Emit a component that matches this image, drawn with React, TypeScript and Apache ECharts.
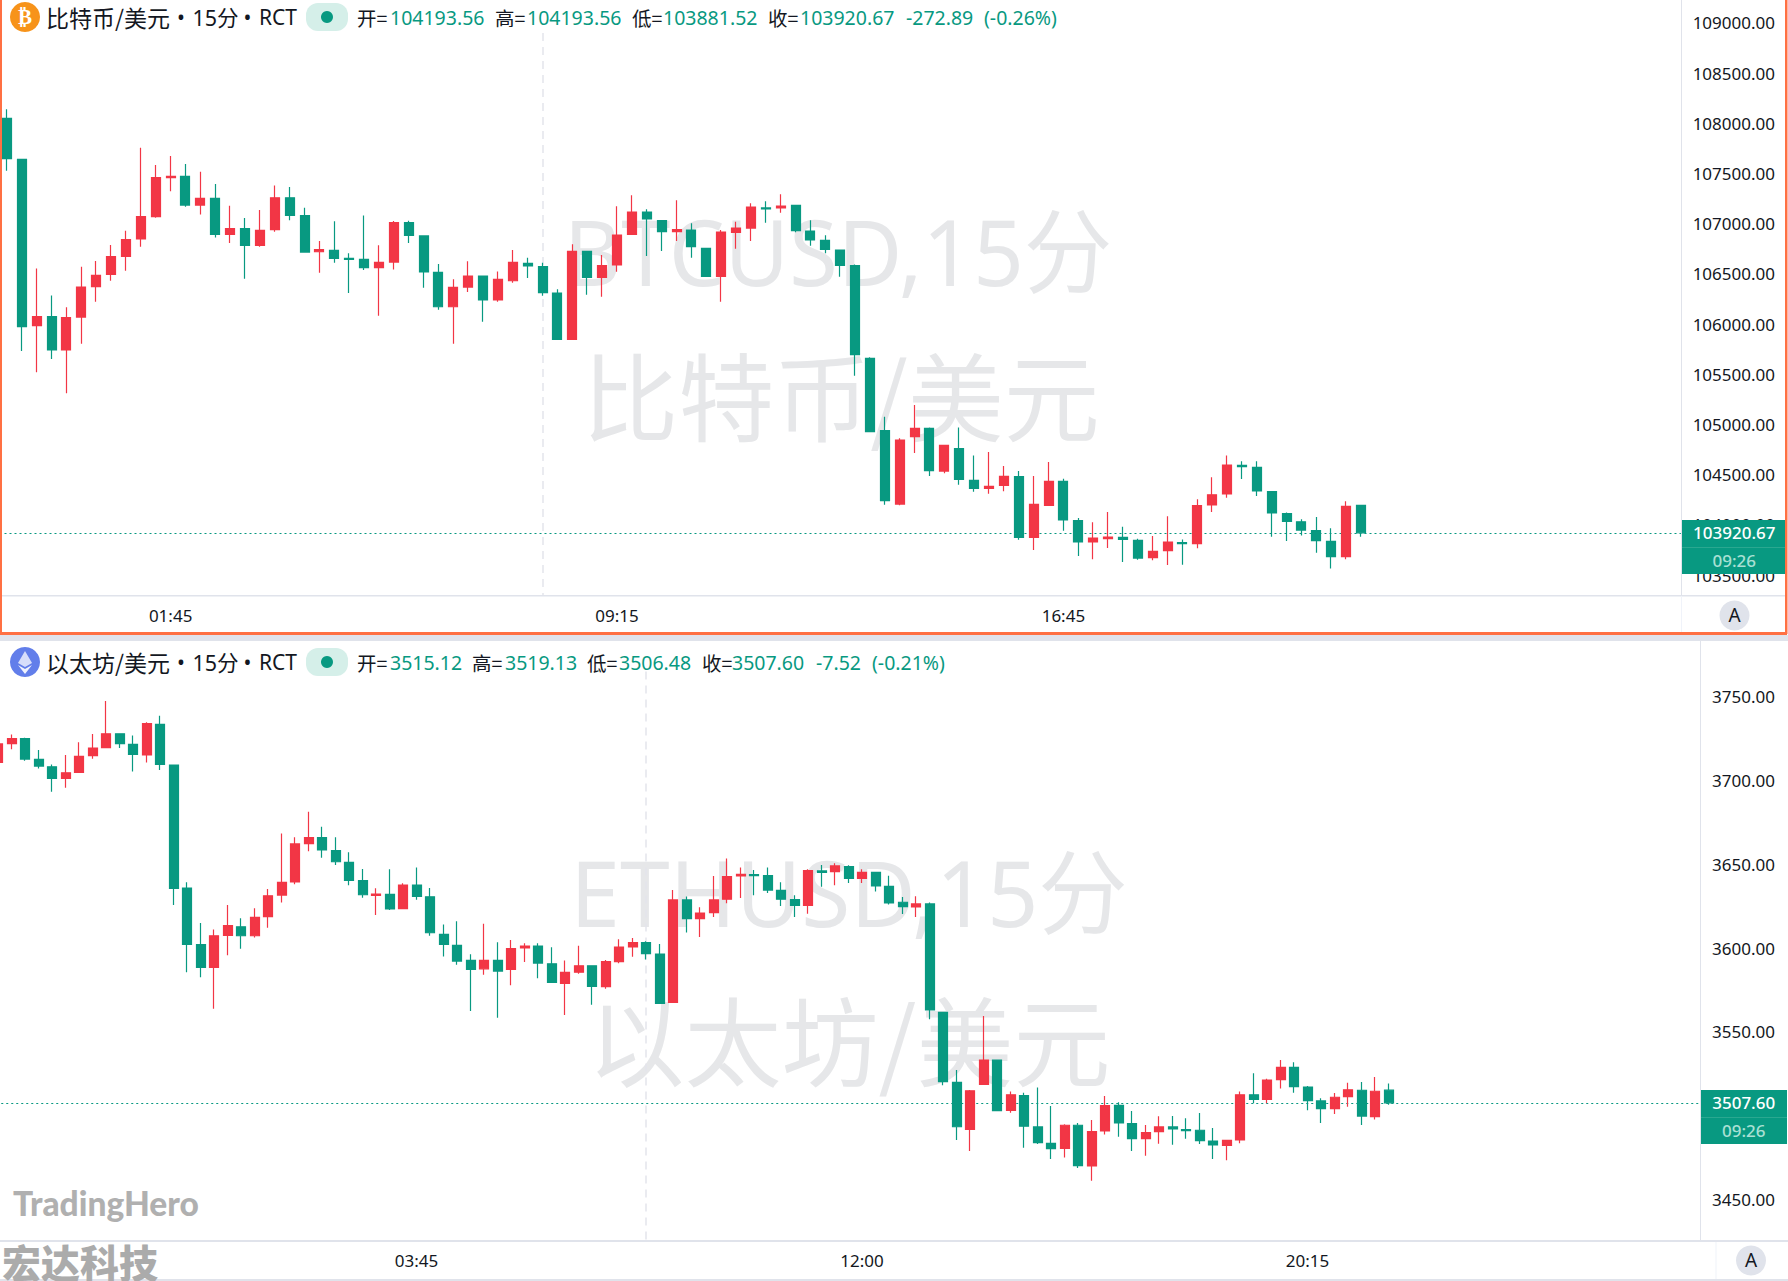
import React, { useEffect, useRef } from "react";
import * as echarts from "echarts";

// [open, close, low, high]
const btcCandles = [
  [108050,107648,107529,108140],[107641,105974,105732,107641],[105984,106074,105519,106555],[106074,105742,105652,106286],
  [105742,106064,105310,106167],[106070,106369,105805,106572],[106373,106486,106223,106628],[106496,106672,106432,106788],
  [106675,106841,106532,106931],[106848,107070,106771,107758],[107070,107459,107060,107585],[107459,107472,107323,107675],
  [107472,107186,107170,107595],[107186,107253,107093,107519],[107253,106894,106864,107396],[106894,106951,106808,107180],
  [106951,106785,106452,107057],[106785,106934,106771,107137],[106941,107259,106921,107382],[107259,107083,107034,107366],
  [107080,106718,106715,107160],[106721,106741,106512,106828],[106735,106655,106612,107024],[106655,106645,106310,106705],
  [106645,106562,106539,107083],[106562,106615,106084,106785],[106618,107010,106545,107027],[107010,106884,106808,107030],
  [106878,106519,106363,106878],[106516,106173,106144,106599],[106173,106366,105805,106446],[106369,106479,106320,106625],
  [106479,106240,106024,106479],[106240,106446,106223,106525],[106432,106615,106413,106738],[106605,106579,106459,106662],
  [106572,106313,106283,106612],[106310,105848,105848,106346],[105848,106725,105848,106795],[106725,106466,106293,106725],
  [106466,106582,106273,106688],[106589,106887,106522,107173],[106894,107117,106894,107283],[107117,107047,106678,107143],
  [107030,106921,106728,107030],[106921,106941,106828,107233],[106937,106771,106662,107004],[106755,106476,106476,106755],
  [106476,106917,106223,106937],[106914,106957,106751,107020],[106957,107166,106828,107203],[107157,107147,107010,107223],
  [107157,107176,107110,107293],[107183,106931,106914,107183],[106927,106838,106781,107034],[106834,106745,106705,106884],
  [106738,106585,106472,106738],[106582,105695,105486,106595],[105659,104928,104928,105669],[104938,104241,104201,105078],
  [104207,104845,104194,104862],[104878,104961,104716,105194],[104961,104540,104486,104971],[104536,104792,104513,104792],
  [104759,104453,104400,104971],[104443,104364,104330,104692],[104364,104384,104310,104726],[104393,104483,104334,104586],
  [104480,103875,103852,104536],[103875,104204,103749,104486],[104194,104433,104188,104626],[104433,104048,103942,104460],
  [104041,103829,103689,104068],[103829,103869,103656,104025],[103862,103879,103769,104128],[103875,103855,103630,103982],
  [103845,103669,103653,103862],[103673,103736,103646,103889],[103743,103829,103600,104085],[103822,103812,103603,103855],
  [103812,104191,103766,104254],[104198,104300,104128,104473],[104307,104596,104271,104692],[104593,104579,104457,104633],
  [104573,104337,104287,104633],[104330,104118,103882,104330],[104111,104035,103839,104124],[104031,103948,103895,104055],
  [103942,103842,103723,104078],[103835,103683,103566,103965],[103683,104184,103656,104234],[104193.56,103920.67,103881.52,104193.56],
];

const ethCandles = [
  [3710.8,3721.8,3709.8,3724.1],[3722.0,3725.0,3718.6,3727.5],[3725.0,3712.8,3711.8,3725.5],[3712.6,3708.6,3707.2,3718.2],
  [3708.2,3701.3,3693.3,3709.6],[3701.3,3704.6,3695.7,3715.2],[3704.8,3714.4,3704.8,3722.8],[3714.8,3719.4,3713.0,3727.8],
  [3719.6,3727.9,3719.6,3747.4],[3727.9,3722.0,3719.4,3727.9],[3721.6,3715.6,3705.3,3726.8],[3715.2,3733.9,3710.8,3734.7],
  [3733.5,3709.6,3706.2,3738.7],[3709.2,3635.6,3625.6,3709.2],[3635.8,3602.2,3585.5,3639.2],[3602.0,3588.4,3582.5,3614.9],
  [3588.4,3607.3,3563.8,3611.1],[3607.5,3613.3,3595.6,3625.6],[3612.7,3607.3,3599.6,3617.7],[3607.3,3618.3,3606.2,3623.7],
  [3618.7,3631.2,3612.1,3635.2],[3631.6,3639.2,3627.2,3668.4],[3639.4,3662.1,3638.0,3666.1],[3662.3,3665.9,3657.7,3681.4],
  [3665.9,3658.5,3653.9,3672.4],[3658.1,3651.5,3649.5,3666.1],[3651.1,3640.4,3637.4,3657.1],[3640.2,3631.8,3630.0,3647.1],
  [3631.4,3632.2,3619.7,3635.6],[3632.0,3623.3,3622.7,3647.0],[3623.5,3637.6,3623.5,3638.6],[3637.6,3630.8,3628.8,3648.1],
  [3630.6,3609.1,3607.3,3635.8],[3608.1,3602.2,3595.0,3614.1],[3601.6,3592.2,3590.0,3615.9],[3592.6,3587.2,3562.4,3596.2],
  [3587.6,3592.6,3584.1,3614.5],[3592.6,3586.2,3558.4,3603.4],[3587.2,3599.6,3577.7,3604.8],[3600.0,3601.2,3591.6,3602.8],
  [3601.2,3591.0,3581.9,3602.8],[3590.6,3579.5,3579.5,3600.4],[3578.9,3585.4,3560.0,3592.6],[3585.6,3589.4,3584.6,3601.4],
  [3589.4,3577.1,3566.2,3589.4],[3576.9,3591.9,3575.7,3592.9],[3591.9,3600.6,3590.9,3605.2],[3600.6,3603.2,3594.8,3606.0],
  [3603.2,3596.6,3593.1,3604.0],[3596.4,3567.0,3567.0,3602.4],[3567.6,3628.7,3567.6,3634.6],[3628.7,3617.5,3609.2,3630.7],
  [3617.5,3620.9,3606.6,3624.3],[3621.1,3628.7,3618.5,3643.0],[3629.1,3642.6,3626.7,3653.5],[3643.0,3644.0,3629.9,3648.0],
  [3643.8,3643.2,3631.5,3646.6],[3643.2,3634.6,3632.9,3648.0],[3634.4,3629.1,3625.1,3639.2],[3628.9,3625.5,3618.5,3631.5],
  [3625.5,3646.2,3620.5,3647.0],[3646.0,3645.2,3636.6,3649.6],[3645.6,3649.0,3637.4,3650.6],[3648.6,3641.6,3638.8,3649.4],
  [3641.6,3645.2,3638.8,3647.0],[3645.2,3637.0,3633.7,3645.2],[3636.8,3626.9,3625.9,3643.2],[3627.3,3624.7,3620.3,3630.5],
  [3624.5,3626.3,3618.5,3630.9],[3626.3,3563.0,3557.4,3627.1],[3561.6,3520.2,3518.0,3561.6],[3519.8,3493.3,3485.4,3527.2],
  [3491.7,3514.8,3478.8,3515.2],[3518.6,3533.1,3518.2,3559.4],[3533.1,3502.9,3502.9,3533.1],[3503.1,3512.4,3501.7,3514.4],
  [3511.9,3493.6,3480.8,3513.6],[3493.2,3483.8,3483.0,3516.8],[3483.4,3480.2,3474.1,3505.7],[3480.4,3494.2,3474.9,3494.8],
  [3494.2,3470.1,3468.7,3495.6],[3469.9,3490.4,3461.1,3497.3],[3490.8,3505.9,3488.6,3511.7],[3506.1,3495.6,3487.4,3507.9],
  [3495.2,3486.2,3478.8,3502.7],[3486.2,3489.8,3476.0,3494.4],[3490.4,3493.2,3483.2,3499.5],[3493.2,3492.0,3482.6,3499.7],
  [3491.6,3491.0,3486.2,3498.3],[3491.2,3485.0,3483.0,3501.5],[3484.8,3482.4,3474.1,3492.6],[3482.2,3485.2,3473.3,3485.2],
  [3485.4,3512.4,3483.4,3514.4],[3512.4,3509.7,3507.3,3525.2],[3509.7,3521.2,3507.3,3522.0],[3521.4,3528.8,3516.2,3533.1],
  [3528.8,3517.2,3513.6,3531.8],[3517.0,3508.9,3503.1,3517.6],[3508.7,3504.1,3495.6,3510.3],[3504.1,3510.9,3500.9,3513.5],
  [3511.3,3515.4,3505.3,3519.6],[3515.1,3499.7,3494.4,3520.0],[3499.3,3514.5,3497.7,3523.0],[3515.12,3507.60,3506.48,3519.13],
];

const btcYTicks = [103500,104000,104500,105000,105500,106000,106500,107000,107500,108000,108500,109000];
const ethYTicks = [3450,3550,3600,3650,3700,3750]; // 3500 lies fully behind the price tag
const btcTickIndex = [11, 41, 71];
const ethTickIndex = [31, 64, 97];
const btcClose = 103920.67;
const ethClose = 3507.6;
const btcSessionIndex = 36;
const ethSessionIndex = 48;

const RED = "#F23645";
const GREEN = "#089981";
const LINE = "#e0e3eb";
const INK = "#131722";
const ORANGE = "#ff7043";
const FONT = '"Noto Sans","Noto Sans CJK SC",sans-serif';
const CJK = '"Noto Sans CJK SC","Noto Sans",sans-serif';
const PAD = 10; // the chart canvas starts PAD px left of the page so the first ETH candle can be cut by the page edge

function times(startMinutes: number, n: number) {
  const out: string[] = [];
  for (let i = 0; i < n; i++) {
    const m = (startMinutes + i * 15) % 1440;
    out.push(String(Math.floor(m / 60)).padStart(2, "0") + ":" + String(m % 60).padStart(2, "0"));
  }
  return out;
}
const btcTimes = times(23 * 60, 113);
const ethTimes = times(20 * 60, 127);

const txt = (x: number, y: number, text: string, fill: string, size: number, opt: any = {}) => ({
  type: "text", x, y, z: opt.z ?? 12, silent: true, scaleX: opt.scaleX ?? 1,
  style: {
    text, fill, fontSize: size, fontFamily: opt.family ?? FONT, fontWeight: opt.weight ?? 400,
    align: opt.align ?? "left", verticalAlign: "middle",
  },
});
const box = (x: number, y: number, width: number, height: number, fill: string, z = 8, r = 0) => ({
  type: "rect", z, silent: true, shape: { x, y, width, height, r }, style: { fill },
});

function header(cy: number, pair: string, parts: [number, string, string][]) {
  return [
    txt(46, cy, pair, INK, 23, { family: CJK }),
    txt(181, cy, "•", INK, 21, { align: "center" }),
    txt(192.5, cy, "15分", INK, 21.5),
    txt(247.5, cy, "•", INK, 21, { align: "center" }),
    txt(259, cy, "RCT", INK, 21),
    box(306, cy - 14, 42, 28, "#d5efe9", 12, 12),
    { type: "circle", z: 13, silent: true, shape: { cx: 327, cy, r: 6 }, style: { fill: GREEN } },
    ...parts.map(([x, s, c]) => txt(x, cy, s, c, 19.5, { family: s.includes("=") ? CJK : FONT })),
  ];
}

function tag(x: number, w: number, top: number, cx: number, price: string) {
  return [
    box(x, top, w, 54, GREEN, 10),
    box(x, top + 27, w, 1, "#2aa890", 11),
    txt(cx, top + 12.5, price, "#ffffff", 17, { align: "center", weight: 500 }),
    txt(cx, top + 40, "09:26", "#a9e0d4", 17, { align: "center", weight: 500 }),
  ];
}

function candleSeries(data: number[][], xi: number, close: number, session: number, top: number, bottom: number) {
  return {
    type: "candlestick", xAxisIndex: xi, yAxisIndex: xi, data, barWidth: 9.5,
    itemStyle: { color: RED, color0: GREEN, borderColor: RED, borderColor0: GREEN, borderWidth: 1.2 },
    markLine: {
      silent: true, symbol: "none", z: 1, animation: false, label: { show: false },
      data: [
        { yAxis: close, lineStyle: { type: [2, 3], color: GREEN, width: 1 } },
        [
          { coord: [session, top], lineStyle: { type: [8, 6], color: "#e3e5ec", width: 1.5 } },
          { coord: [session, bottom] },
        ],
      ],
    },
  };
}

export default function App() {
  const ref = useRef<HTMLDivElement>(null);
  useEffect(() => {
    const chart = echarts.init(ref.current!, undefined, { renderer: "svg" });
    const children = [
      // watermarks
      txt(838, 250, "BTCUSD,15分", "#e6e7e9", 92, { align: "center", z: 0, scaleX: 0.962 }),
      txt(841, 392, "比特币/美元", "#e6e7e9", 96, { align: "center", z: 0, family: CJK }),
      txt(849, 892, "ETHUSD,15分", "#e6e7e9", 92, { align: "center", z: 0, scaleX: 0.972 }),
      txt(849, 1036, "以太坊/美元", "#e6e7e9", 97, { align: "center", z: 0, family: CJK }),
      // frame lines
      box(0, 595, 1785, 1.5, LINE),
      box(1681, 0, 1, 595, LINE),
      box(1681, 596, 1, 36, "#f0f3fa"),
      box(0, 635, 1788, 6, LINE),
      box(0, 632, 1787, 3, ORANGE, 9),
      box(0, 0, 2, 634, ORANGE, 9),
      box(1785, 0, 2.5, 634, ORANGE, 9),
      box(0, 1240, 1788, 2, LINE),
      box(1700, 641, 1, 600, LINE),
      box(1715.5, 1242, 1, 37, "#f0f3fa"),
      box(0, 1279, 1788, 2, LINE),
      // auto-scale buttons
      { type: "circle", z: 9, silent: true, shape: { cx: 1734.5, cy: 615.5, r: 15 }, style: { fill: LINE } },
      txt(1734.5, 614.5, "A", INK, 19, { align: "center" }),
      { type: "circle", z: 9, silent: true, shape: { cx: 1751, cy: 1260.5, r: 15 }, style: { fill: LINE } },
      txt(1751, 1259.5, "A", INK, 19, { align: "center" }),
      // icons
      { type: "circle", z: 12, silent: true, shape: { cx: 25, cy: 17, r: 15 }, style: { fill: "#f7931a" } },
      txt(25, 17, "₿", "#ffffff", 21, { align: "center", weight: 700, family: '"DejaVu Sans"', z: 13 }),
      { type: "circle", z: 12, silent: true, shape: { cx: 25, cy: 662, r: 15 }, style: { fill: "#627eea" } },
      { type: "polygon", z: 13, silent: true, shape: { points: [[25, 651], [32, 663], [25, 667], [18, 663]] }, style: { fill: "#ffffff", opacity: 0.75 } },
      { type: "polygon", z: 13, silent: true, shape: { points: [[25, 669], [32, 665], [25, 674], [18, 665]] }, style: { fill: "#ffffff", opacity: 0.9 } },
      // headers
      ...header(17, "比特币/美元", [
        [357, "开=", INK], [390, "104193.56", GREEN],
        [495, "高=", INK], [527, "104193.56", GREEN],
        [632, "低=", INK], [663, "103881.52", GREEN],
        [768, "收=", INK], [800, "103920.67", GREEN],
        [906, "-272.89", GREEN], [984, "(-0.26%)", GREEN],
      ]),
      ...header(662, "以太坊/美元", [
        [357, "开=", INK], [390, "3515.12", GREEN],
        [472, "高=", INK], [505, "3519.13", GREEN],
        [587, "低=", INK], [619, "3506.48", GREEN],
        [702, "收=", INK], [732, "3507.60", GREEN],
        [816, "-7.52", GREEN], [872, "(-0.21%)", GREEN],
      ]),
      ...tag(1682, 103, 520, 1734.3, "103920.67"),
      ...tag(1701, 86, 1090, 1743.7, "3507.60"),
      // brand marks
      txt(13, 1203, "TradingHero", "#b0b0b0", 33.5, { family: '"Lato","Noto Sans",sans-serif', weight: 900 }),
      txt(2, 1260.5, "宏达科技", "#ababab", 39, { family: CJK, weight: 900 }),
    ];
    const graphic = [{ type: "group", x: PAD, y: 0, children }];

    const xAxisBase = {
      type: "category", boundaryGap: true,
      axisLine: { show: false }, axisTick: { show: false }, splitLine: { show: false },
    };
    const yAxisBase = {
      type: "value", position: "right", scale: true,
      axisLine: { show: false }, axisTick: { show: false }, splitLine: { show: false },
    };
    const xLabel = (idx: number[]) => ({
      color: INK, fontSize: 17, fontFamily: FONT, margin: 11, hideOverlap: false,
      interval: (i: number) => idx.includes(i),
    });
    const yLabel = (vals: number[], gridRight: number) => ({
      customValues: vals, color: INK, fontSize: 17, fontFamily: FONT, align: "right",
      margin: 1775 - gridRight, showMinLabel: true, showMaxLabel: true,
      formatter: (v: number) => v.toFixed(2),
    });

    chart.setOption({
      animation: false,
      backgroundColor: "#ffffff",
      tooltip: { show: false },
      grid: [
        { left: PAD - 0.5, top: 0, width: 1681.4, height: 596 },
        { left: PAD - 8.75, top: 641, width: 1714.5, height: 600 },
      ],
      xAxis: [
        { ...xAxisBase, gridIndex: 0, data: btcTimes, axisLabel: xLabel(btcTickIndex) },
        { ...xAxisBase, gridIndex: 1, data: ethTimes, axisLabel: xLabel(ethTickIndex) },
      ],
      yAxis: [
        { ...yAxisBase, gridIndex: 0, min: 103291, max: 109229, axisLabel: yLabel(btcYTicks, 1680.9) },
        { ...yAxisBase, gridIndex: 1, min: 3425.1, max: 3783.26, axisLabel: yLabel(ethYTicks, 1705.75) },
      ],
      series: [
        candleSeries(btcCandles, 0, btcClose, btcSessionIndex, 108900, 103291),
        candleSeries(ethCandles, 1, ethClose, ethSessionIndex, 3765, 3425.1),
      ],
      graphic,
    });
    return () => chart.dispose();
  }, []);
  return (
    <div
      ref={ref}
      style={{ position: "absolute", left: -PAD, top: 0, width: 1788 + PAD, height: 1281, background: "#fff" }}
    />
  );
}
